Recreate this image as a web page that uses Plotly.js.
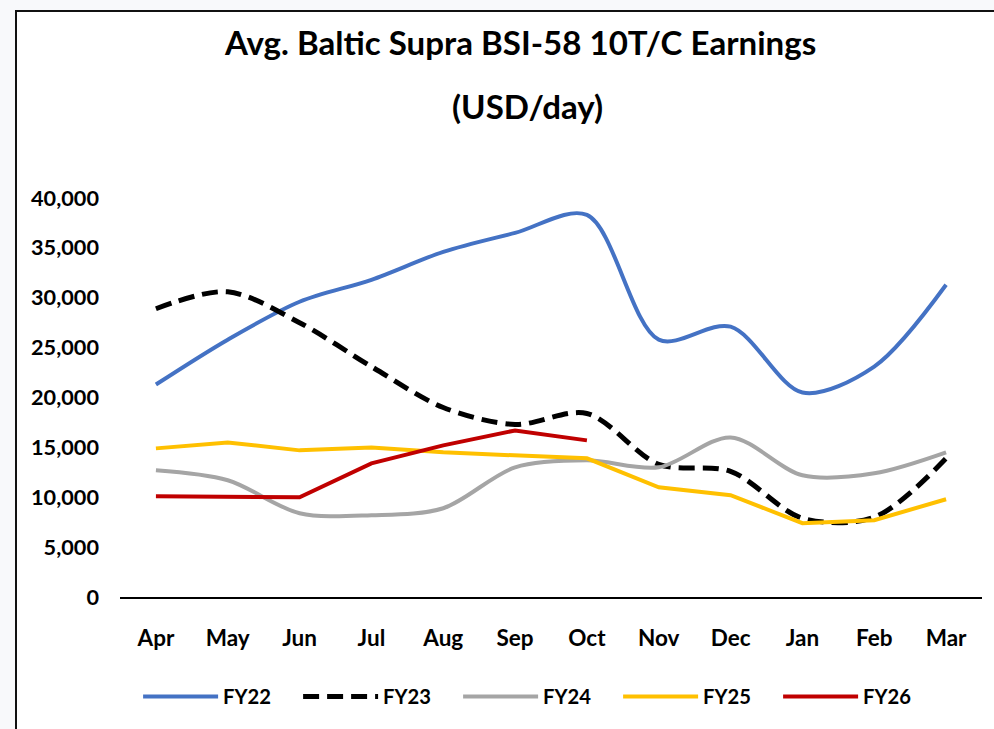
<!DOCTYPE html>
<html>
<head>
<meta charset="utf-8">
<script src="https://cdn.plot.ly/plotly-3.0.1.min.js"></script>
<style>
  html, body { margin: 0; padding: 0; background: #f8f9fb; width: 994px; height: 729px; overflow: hidden; }
  #frame { position: absolute; left: 15px; top: 10px; width: 979px; height: 719px; box-sizing: border-box;
           background: #ffffff; border-left: 2px solid #111; border-top: 2px solid #111; }
  #chart { position: absolute; left: 0; top: 0; width: 994px; height: 729px; }
</style>
</head>
<body>
<div id="frame"></div>
<div id="chart"></div>
<script>
const months = ["Apr","May","Jun","Jul","Aug","Sep","Oct","Nov","Dec","Jan","Feb","Mar"];
const fy22 = [21300, 25800, 29600, 31800, 34600, 36500, 38300, 25800, 27100, 20500, 23100, 31300];
const fy23 = [28900, 30600, 27500, 23100, 19000, 17300, 18400, 13300, 12600, 7900, 8000, 13900];
const fy24 = [12700, 11700, 8400, 8200, 8900, 13000, 13700, 13000, 16000, 12200, 12400, 14500];
const fy25 = [14900, 15500, 14700, 15000, 14500, 14200, 13900, 11000, 10200, 7400, 7700, 9800];
const fy26 = [10100, 10100, 10000, 13400, 15200, 16700, 15700];
const titleLine1 = "Avg. Baltic Supra BSI-58 10T/C Earnings";
const titleLine2 = "(USD/day)";

const FONT = 'Lato, "Open Sans", Roboto, sans-serif';

// choose font sizes so that text widths match the reference
const ctx = document.createElement("canvas").getContext("2d");
function fit(text, target) {
  ctx.font = 'bold 100px ' + FONT;
  const w = ctx.measureText(text).width;
  return Math.round(100 * target / w * 10) / 10;
}
const titleSize = fit(titleLine1, 592);
const ytickSize = fit("40,000", 68);
const xtickSize = fit("May", 44);
const legendSize = fit("FY22", 48);

const traces = [
  {name: "FY22", x: months, y: fy22, mode: "lines", line: {color: "#4472C4", width: 4, shape: "spline", smoothing: 0.9}},
  {name: "FY23", x: months, y: fy23, mode: "lines", line: {color: "#000000", width: 5, dash: "16px,8px", shape: "spline", smoothing: 0.9}},
  {name: "FY24", x: months, y: fy24, mode: "lines", line: {color: "#A5A5A5", width: 4, shape: "spline", smoothing: 0.9}},
  {name: "FY25", x: months, y: fy25, mode: "lines", line: {color: "#FFC000", width: 4}},
  {name: "FY26", x: months.slice(0, fy26.length), y: fy26, mode: "lines", line: {color: "#C00000", width: 4}}
];

const layout = {
  width: 994, height: 729,
  margin: {l: 120, r: 12, t: 198, b: 132, pad: 0},
  paper_bgcolor: "rgba(0,0,0,0)",
  plot_bgcolor: "rgba(0,0,0,0)",
  font: {family: FONT, color: "#000", size: 22, weight: "bold"},
  showlegend: true,
  legend: {orientation: "h", x: 0.021, xanchor: "left", y: -0.25, yanchor: "middle",
           font: {family: FONT, size: legendSize, weight: "bold", color: "#000"},
           itemwidth: 75, entrywidth: 70, entrywidthmode: "pixels", tracegroupgap: 0,
           bgcolor: "rgba(0,0,0,0)", borderwidth: 0},
  xaxis: {type: "category", range: [-0.5, 11.5], showgrid: false, zeroline: false,
          showline: true, linecolor: "#000", linewidth: 1.5, ticks: "", ticklabelstandoff: 20,
          tickfont: {family: FONT, size: xtickSize, weight: "bold", color: "#000"}, fixedrange: true},
  yaxis: {range: [0, 40000], dtick: 5000, tickformat: ",", showgrid: false, zeroline: false,
          showline: false, ticks: "", ticklabelstandoff: 20,
          tickfont: {family: FONT, size: ytickSize, weight: "bold", color: "#000"}, fixedrange: true},
  annotations: [
    {text: titleLine1, xref: "paper", yref: "paper", x: 0.464, y: 1.392,
     xanchor: "center", yanchor: "middle", showarrow: false,
     font: {family: FONT, size: titleSize, weight: "bold", color: "#000"}},
    {text: titleLine2, xref: "paper", yref: "paper", x: 0.473, y: 1.230,
     xanchor: "center", yanchor: "middle", showarrow: false,
     font: {family: FONT, size: titleSize, weight: "bold", color: "#000"}}
  ]
};

Plotly.newPlot("chart", traces, layout, {displayModeBar: false, staticPlot: true});
</script>
</body>
</html>
